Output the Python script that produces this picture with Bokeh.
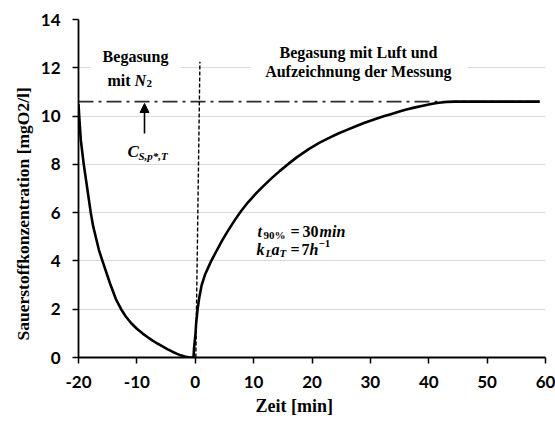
from bokeh.plotting import figure
from bokeh.models import Range1d, FixedTicker, Label, Arrow, NormalHead, BoxAnnotation, Title
from bokeh.embed import file_html
from bokeh.resources import INLINE

# ---------------- data ----------------
t_n2 = [-20, -19.8, -19.6, -19.35, -19.1, -18.8, -18.5, -18.2, -17.9, -17.5, -17.0, -16.5, -15.9,
        -15.2, -14.5, -13.6, -12.7, -11.9, -11.0, -10.0, -9.0, -8.2, -7.3, -6.5, -5.6, -4.8,
        -4.0, -3.2, -2.5, -1.8, -1.0, -0.3]
o2_n2 = [10.5, 9.7, 9.0, 8.5, 8.0, 7.5, 7.0, 6.5, 6.0, 5.45, 4.95, 4.45, 4.0,
         3.5, 3.0, 2.42, 2.0, 1.7, 1.43, 1.19, 0.99, 0.85, 0.70, 0.58, 0.46, 0.35,
         0.25, 0.16, 0.09, 0.04, 0.0, 0.0]
t_air = [-0.3, -0.2, 0.05, 0.15, 0.4, 0.7, 1.1, 1.7, 2.7, 3.5, 4.5, 5.2, 6.0, 6.8, 7.8, 9.0,
         10.5, 11.7, 13.0, 14.5, 16.0, 17.5, 19.5, 21.3, 23.2, 24.5, 26.0, 27.4, 28.9, 30.5,
         32.4, 33.5, 34.7, 36.0, 37.5, 39.0, 40.4, 41.7, 43.0, 44.5, 46.0, 50.0, 55.0, 59.0]
o2_air = [0.0, 0.4, 1.0, 1.4, 2.0, 2.5, 3.0, 3.45, 3.98, 4.35, 4.8, 5.09, 5.4, 5.7, 6.05, 6.42,
          6.82, 7.11, 7.41, 7.73, 8.03, 8.31, 8.64, 8.9, 9.13, 9.28, 9.43, 9.57, 9.71, 9.85,
          10.0, 10.08, 10.17, 10.26, 10.35, 10.43, 10.5, 10.55, 10.58, 10.6, 10.6, 10.6, 10.6, 10.6]
cs_t = [-20, 59]
cs_val = [10.6, 10.6]
switch_t = [0.1, 0.8]
switch_y = [0, 12.25]
x_ticks = [-20, -10, 0, 10, 20, 30, 40, 50, 60]
x_tick_labels = ["-20", "-10", "0", "10", "20", "30", "40", "50", "60"]
y_ticks = [0, 2, 4, 6, 8, 10, 12, 14]
y_tick_labels = ["0", "2", "4", "6", "8", "10", "12", "14"]

# ---------------- layout ----------------
W, H = 555, 421
FL, FR, FT, FB = 78, 545, 19, 357
XMIN, XMAX, YMIN, YMAX = -20, 60, 0, 14

def px2x(px):
    return XMIN + (px - FL) * (XMAX - XMIN) / (FR - FL)

def py2y(py):
    return YMIN + (FB - py) * (YMAX - YMIN) / (FB - FT)

p = figure(width=W, height=H, output_backend="svg", toolbar_location=None,
           x_range=Range1d(XMIN, XMAX), y_range=Range1d(YMIN, YMAX),
           min_border_left=FL, min_border_right=W - FR,
           min_border_top=FT, min_border_bottom=H - FB)
p.outline_line_color = None
p.background_fill_color = "white"
p.border_fill_color = "white"

p.xgrid.visible = False
p.ygrid.grid_line_color = "#d9d9d9"
p.ygrid.grid_line_width = 1
p.ygrid.ticker = FixedTicker(ticks=y_ticks)

for ax, ticks, labels in ((p.xaxis[0], x_ticks, x_tick_labels), (p.yaxis[0], y_ticks, y_tick_labels)):
    ax.ticker = FixedTicker(ticks=ticks)
    ax.major_label_overrides = {t: l for t, l in zip(ticks, labels)}
    ax.axis_line_color = "black"
    ax.axis_line_width = 1.8
    ax.major_tick_line_color = "black"
    ax.major_tick_line_width = 1.5
    ax.major_tick_out = 6
    ax.major_tick_in = 0
    ax.minor_tick_line_color = None
    ax.major_label_text_font = "Lato"
    ax.major_label_text_font_style = "bold"
    ax.major_label_text_font_size = "17px"
    ax.major_label_text_color = "black"
p.xaxis.major_label_standoff = 12
p.yaxis.major_label_standoff = 12

p.add_layout(Title(text="Zeit [min]", align="left", offset=177, standoff=7,
                   text_font="Liberation Serif", text_font_size="18px",
                   text_font_style="bold", text_color="black"), "below")
p.add_layout(Title(text="Sauerstoffkonzentration [mgO2/l]", align="left", offset=17, standoff=9,
                   text_font="Liberation Serif", text_font_size="17.5px",
                   text_font_style="bold", text_color="black"), "left")

# white boxes behind annotations
p.add_layout(BoxAnnotation(left=px2x(90), right=px2x(180), bottom=py2y(85), top=py2y(42),
                           fill_color="white", fill_alpha=1, line_color=None))
p.add_layout(BoxAnnotation(left=px2x(250), right=px2x(467), bottom=py2y(82), top=py2y(38),
                           fill_color="white", fill_alpha=1, line_color=None))

# lines
p.line(cs_t, cs_val, line_color="#2b2b2b", line_width=1.6, line_dash="15 5 3 5")
p.line(switch_t, switch_y, line_color="black", line_width=1.4, line_dash="4 2")
p.line(t_n2, o2_n2, line_color="black", line_width=2.6, line_join="round")
p.line(t_air, o2_air, line_color="black", line_width=2.6, line_join="round")

p.add_layout(Arrow(x_start=px2x(144), y_start=py2y(133), x_end=px2x(144), y_end=py2y(103),
                   line_color="black", line_width=1.6,
                   end=NormalHead(size=9, fill_color="black", line_color="black")))

def lab(px, py, text, size, style="bold", align="left", baseline="alphabetic",
        font="Liberation Serif", angle=0):
    p.add_layout(Label(x=px2x(px), y=py2y(py), text=text, text_font=font,
                       text_font_size=f"{size}px", text_font_style=style,
                       text_align=align, text_baseline=baseline, text_color="black",
                       angle=angle))

# region texts
lab(135, 56, "Begasung", 16, align="center", baseline="middle")
lab(130, 80, "mit", 16, align="right")
lab(134, 80, "N", 16, style="bold italic")
lab(146, 83, "2", 11)
lab(358, 52, "Begasung mit Luft und", 16, align="center", baseline="middle")
lab(358, 71, "Aufzeichnung der Messung", 16, align="center", baseline="middle")

# C_S,p*,T
lab(127, 151, "C", 17, style="bold italic")
lab(138, 155, "S,p*,T", 11, style="bold italic")

# t90 / kLa
lab(257, 231, "t", 16, style="bold italic")
lab(263, 234, "90%", 11)
lab(290, 231, "=", 16)
lab(302, 231, "30", 16)
lab(319, 231, "min", 16, style="bold italic")
lab(256, 249, "k", 16, style="bold italic")
lab(265, 252, "L", 11, style="bold italic")
lab(271, 249, "a", 16, style="bold italic")
lab(279, 252, "T", 11, style="bold italic")
lab(290, 249, "=", 16)
lab(301, 249, "7", 16)
lab(309, 249, "h", 16, style="bold italic")
lab(318, 243, "\u22121", 11)

open("out.html", "w").write(file_html(p, INLINE))
